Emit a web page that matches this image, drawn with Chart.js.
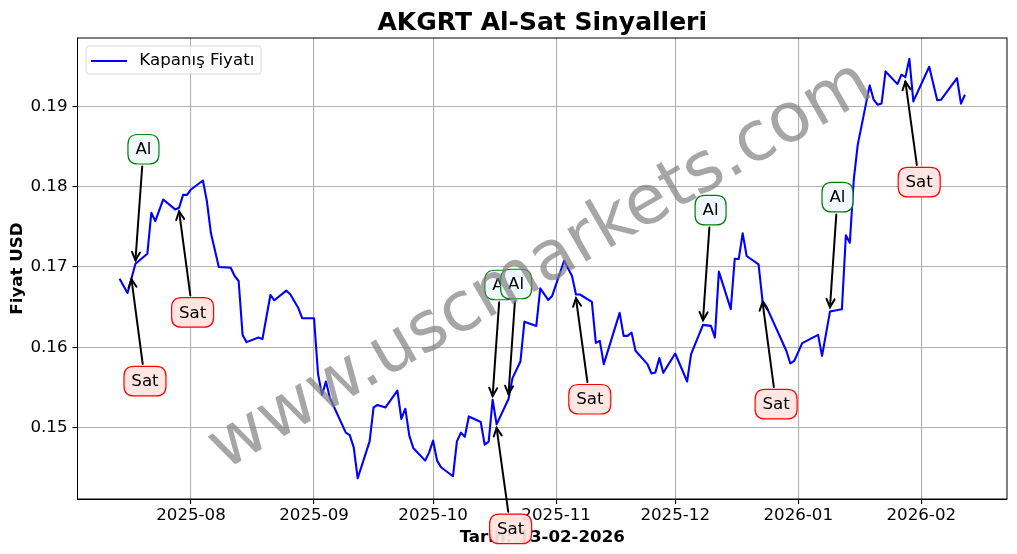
<!DOCTYPE html>
<html>
<head>
<meta charset="utf-8">
<script src="https://cdn.jsdelivr.net/npm/chart.js@4/dist/chart.umd.min.js"></script>
<style>html,body{margin:0;padding:0;background:#fff}#w{width:1017px;height:554px;position:relative}</style>
</head>
<body>
<div id="w"><canvas id="c" width="1017" height="554"></canvas></div>
<script>
const dates = ["2025-07-14","2025-07-16","2025-07-18","2025-07-21","2025-07-22","2025-07-23","2025-07-25","2025-07-28","2025-07-29","2025-07-30","2025-07-31","2025-08-01","2025-08-04","2025-08-05","2025-08-06","2025-08-08","2025-08-11","2025-08-12","2025-08-13","2025-08-14","2025-08-15","2025-08-18","2025-08-19","2025-08-21","2025-08-22","2025-08-25","2025-08-26","2025-08-28","2025-08-29","2025-09-01","2025-09-02","2025-09-03","2025-09-04","2025-09-05","2025-09-09","2025-09-10","2025-09-11","2025-09-12","2025-09-15","2025-09-16","2025-09-17","2025-09-19","2025-09-22","2025-09-23","2025-09-24","2025-09-25","2025-09-26","2025-09-29","2025-09-30","2025-10-01","2025-10-02","2025-10-03","2025-10-06","2025-10-07","2025-10-08","2025-10-09","2025-10-10","2025-10-13","2025-10-14","2025-10-15","2025-10-16","2025-10-17","2025-10-20","2025-10-21","2025-10-23","2025-10-24","2025-10-27","2025-10-28","2025-10-30","2025-10-31","2025-11-03","2025-11-05","2025-11-06","2025-11-07","2025-11-10","2025-11-11","2025-11-12","2025-11-13","2025-11-17","2025-11-18","2025-11-19","2025-11-20","2025-11-21","2025-11-24","2025-11-25","2025-11-26","2025-11-27","2025-11-28","2025-12-01","2025-12-04","2025-12-05","2025-12-08","2025-12-10","2025-12-11","2025-12-12","2025-12-15","2025-12-16","2025-12-17","2025-12-18","2025-12-19","2025-12-22","2025-12-23","2025-12-24","2025-12-29","2025-12-30","2025-12-31","2026-01-02","2026-01-06","2026-01-07","2026-01-09","2026-01-12","2026-01-13","2026-01-14","2026-01-15","2026-01-16","2026-01-19","2026-01-20","2026-01-21","2026-01-22","2026-01-23","2026-01-26","2026-01-27","2026-01-28","2026-01-29","2026-01-30","2026-02-03","2026-02-05","2026-02-06","2026-02-10","2026-02-11","2026-02-12"];
const closes = [0.16855,0.16677,0.1704,0.17165,0.17675,0.17571,0.17841,0.17717,0.17737,0.17898,0.17898,0.17965,0.18077,0.1782,0.17426,0.17,0.16991,0.16888,0.16826,0.16155,0.16065,0.16122,0.16102,0.16652,0.16586,0.16706,0.16661,0.16494,0.16363,0.16363,0.15671,0.15406,0.15575,0.15369,0.14938,0.14907,0.14755,0.1437,0.1483,0.15252,0.15282,0.15252,0.1546,0.15108,0.15236,0.14901,0.14748,0.1459,0.14693,0.14839,0.1459,0.14507,0.14395,0.1483,0.14938,0.14888,0.1514,0.15071,0.14789,0.14826,0.15348,0.15041,0.15357,0.15617,0.15824,0.1632,0.16267,0.16735,0.1659,0.1664,0.17078,0.16888,0.16658,0.16658,0.16565,0.16056,0.16081,0.15791,0.16429,0.16143,0.16143,0.16184,0.15957,0.15791,0.15675,0.15687,0.15866,0.15683,0.15923,0.15575,0.15916,0.1628,0.16267,0.16122,0.16942,0.16475,0.17103,0.17099,0.17419,0.17137,0.17034,0.16578,0.16503,0.15957,0.15799,0.15832,0.16052,0.16155,0.15894,0.16445,0.16475,0.17394,0.17302,0.18093,0.18524,0.19261,0.19083,0.19021,0.19037,0.19435,0.19277,0.19394,0.19364,0.19593,0.19062,0.19493,0.19078,0.19083,0.19352,0.19034,0.19145];
const signalTypes = ["Sat","Al","Sat","Al","Sat","Al","Sat","Al","Sat","Al","Sat"];
const signalDates = ["2025-07-17","2025-07-18","2025-07-29","2025-10-16","2025-10-17","2025-10-20","2025-11-06","2025-12-08","2025-12-23","2026-01-09","2026-01-28"];
const signalPrices = [0.16848,0.17084,0.17692,0.15394,0.14997,0.15419,0.16611,0.16338,0.16562,0.165,0.19307];
const xTickDates = ["2025-08-01","2025-09-01","2025-10-01","2025-11-01","2025-12-01","2026-01-01","2026-02-01"];
const yTickValues = [0.15,0.16,0.17,0.18,0.19];
const chartTitle = "AKGRT Al-Sat Sinyalleri";
const xTitle = "Tarih: 13-02-2026";
const yTitle = "Fiyat USD";
const seriesName = "Kapanış Fiyatı";
const watermark = "www.uscmarkets.com";

const FONT = "'DejaVu Sans'";
const DAY = 86400000, ORIGIN = Date.UTC(2025,7,1);
const dayNum = s => { const [y,m,d] = s.split("-").map(Number); return (Date.UTC(y,m-1,d)-ORIGIN)/DAY; };
const dayLabel = n => new Date(ORIGIN+n*DAY).toISOString().slice(0,7);

// label offsets from the arrow tip, in pixels
const labelOffsets = [[13.5,102],[8,-111],[13.5,101],[7.7,-111],[14,101],[7.6,-110],[13.8,101],[7.6,-110],[13.6,102],[7.5,-110],[13.8,100.5]];
const styles = {
  Sat:{w:42,h:29.5,fill:"rgba(255,228,225,0.93)",stroke:"#ff0000"},
  Al:{w:31,h:29.5,fill:"rgba(240,248,255,0.93)",stroke:"#008000"}
};

function roundBox(ctx,x,y,w,h,r){
  ctx.beginPath();
  ctx.moveTo(x+r,y);
  ctx.lineTo(x+w-r,y);ctx.quadraticCurveTo(x+w,y,x+w,y+r);
  ctx.lineTo(x+w,y+h-r);ctx.quadraticCurveTo(x+w,y+h,x+w-r,y+h);
  ctx.lineTo(x+r,y+h);ctx.quadraticCurveTo(x,y+h,x,y+h-r);
  ctx.lineTo(x,y+r);ctx.quadraticCurveTo(x,y,x+r,y);
  ctx.closePath();
}

// legend handle: a 36px line with a transparent margin before the text
const handle = document.createElement("canvas");
handle.width = 40; handle.height = 2;
const hc = handle.getContext("2d");
hc.fillStyle = "#0000ff"; hc.fillRect(0,0,36,2);

const decor = {
  id:"decor",
  afterLayout(chart){
    const lg = chart.legend;
    if(lg && !lg._wrapped){
      const orig = lg.draw.bind(lg);
      lg.draw = function(a){
        const c = chart.ctx, ca = chart.chartArea;
        c.save();
        roundBox(c,ca.left+8.5,ca.top+8,175,28,3);
        c.fillStyle="rgba(255,255,255,0.8)";c.fill();
        c.strokeStyle="rgba(204,204,204,0.8)";c.lineWidth=1;c.stroke();
        c.translate(ca.left+1.5-lg.left, ca.top+22.5-(lg.legendHitBoxes[0].top+lg.legendHitBoxes[0].height/2));
        orig(a);
        c.restore();
      };
      lg._wrapped = true;
    }
  },
  afterDatasetsDraw(chart){
    const c = chart.ctx, a = chart.chartArea;
    c.save();c.strokeStyle="#000";c.lineWidth=1;
    c.strokeRect(a.left,a.top,a.right-a.left,a.bottom-a.top);
    c.restore();
  },
  afterDraw(chart){
    const c = chart.ctx, xs = chart.scales.x, ys = chart.scales.y;
    signalTypes.forEach((t,i)=>{
      const s = styles[t];
      const tx = xs.getPixelForValue(dayNum(signalDates[i])), ty = ys.getPixelForValue(signalPrices[i]);
      const bx = tx+labelOffsets[i][0], by = ty+labelOffsets[i][1];
      const dx = tx-bx, dy = ty-by, L = Math.hypot(dx,dy), ux=dx/L, uy=dy/L;
      const k = (s.h/2+2.5)/Math.abs(uy);
      const sx = bx+ux*k, sy = by+uy*k;
      c.save();
      c.strokeStyle="#000";c.lineWidth=2;c.lineCap="round";c.lineJoin="miter";
      c.beginPath();c.moveTo(sx,sy);c.lineTo(tx,ty);c.stroke();
      const ang = Math.atan2(uy,ux), hl=9, ha=0.46;
      c.beginPath();
      c.moveTo(tx-hl*Math.cos(ang-ha),ty-hl*Math.sin(ang-ha));
      c.lineTo(tx,ty);
      c.lineTo(tx-hl*Math.cos(ang+ha),ty-hl*Math.sin(ang+ha));
      c.stroke();
      roundBox(c,bx-s.w/2,by-s.h/2,s.w,s.h,10);
      c.fillStyle=s.fill;c.fill();
      c.strokeStyle=s.stroke;c.lineWidth=1.2;c.stroke();
      c.fillStyle="#000";c.font="16.67px "+FONT;c.textAlign="center";c.textBaseline="middle";
      c.fillText(t,bx,by+0.8);
      c.restore();
    });
    c.save();
    c.translate(541,267);c.rotate(-30*Math.PI/180);
    c.fillStyle="rgba(128,128,128,0.7)";c.font="69px "+FONT;c.textAlign="center";c.textBaseline="middle";
    c.fillText(watermark,0,0);
    c.restore();
  }
};

new Chart(document.getElementById("c"),{
  type:"line",
  data:{datasets:[{label:seriesName,data:dates.map((d,i)=>({x:dayNum(d),y:closes[i]})),borderColor:"#0000ff",backgroundColor:"#0000ff",borderWidth:2.1,pointRadius:0,tension:0,fill:false,borderJoinStyle:"round"}]},
  plugins:[decor],
  options:{
    responsive:false,animation:false,devicePixelRatio:1,
    layout:{padding:{top:0,right:10,bottom:0,left:0}},
    plugins:{
      title:{display:true,text:chartTitle,fullSize:false,color:"#000",font:{family:FONT,size:25,weight:"bold"},padding:{top:8,bottom:0}},
      legend:{display:true,position:"chartArea",align:"start",
        labels:{color:"#000",font:{family:FONT,size:16.67},usePointStyle:true,pointStyle:handle,pointStyleWidth:40,padding:12}},
      tooltip:{enabled:false}
    },
    scales:{
      x:{type:"linear",min:-28.6,max:205.6,
        afterBuildTicks(s){s.ticks=xTickDates.map(d=>({value:dayNum(d)}));},
        afterFit(s){s.height=55;},
        grid:{color:"#b0b0b0",lineWidth:1.1,tickColor:"#000",tickLength:5},
        border:{color:"#000",width:1},
        ticks:{color:"#000",font:{family:FONT,size:16.67},padding:2,maxRotation:0,autoSkip:false,callback:v=>dayLabel(v)},
        title:{display:true,text:xTitle,color:"#000",font:{family:FONT,size:16.67,weight:"bold"},padding:{top:0,bottom:6.5}}
      },
      y:{type:"linear",min:0.14112,max:0.19851,
        afterBuildTicks(s){s.ticks=yTickValues.map(v=>({value:v}));},
        afterFit(s){s.width=77.5;},
        grid:{color:"#b0b0b0",lineWidth:1.1,tickColor:"#000",tickLength:5},
        border:{color:"#000",width:1},
        ticks:{color:"#000",font:{family:FONT,size:16.67},padding:5,autoSkip:false,callback:v=>v.toFixed(2)},
        title:{display:true,text:yTitle,color:"#000",font:{family:FONT,size:16.67,weight:"bold"},padding:{top:7.7,bottom:0}}
      }
    }
  }
});
</script>
</body>
</html>
